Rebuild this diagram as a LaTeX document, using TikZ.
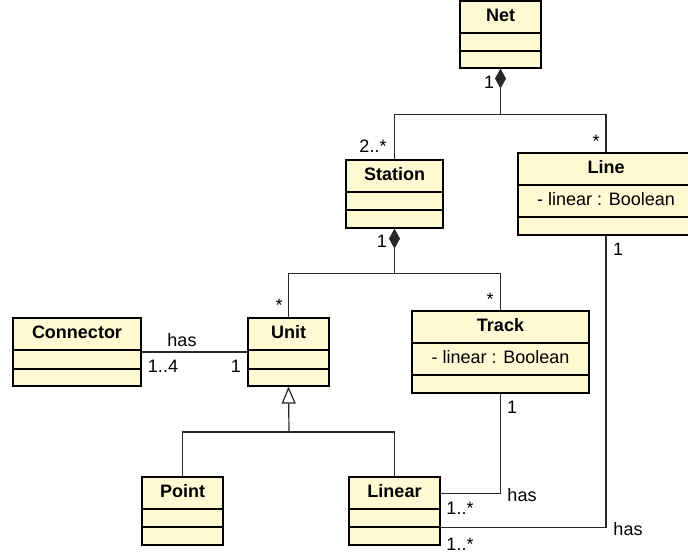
\documentclass[tikz,border=0pt]{standalone}
\usepackage{fontspec}
\setmainfont{Liberation Sans}
\usetikzlibrary{arrows.meta,fit,calc}
\definecolor{classfill}{RGB}{255,250,212}
\definecolor{edgegrey}{RGB}{40,40,40}
\tikzset{
  classbox/.style={draw=black, fill=classfill, line width=1.2pt, inner sep=0pt, rectangle},
  divider/.style={draw=black, line width=1.2pt},
  titletext/.style={anchor=base, inner sep=0pt, font=\fontsize{18}{22}\selectfont\bfseries},
  attrtext/.style={anchor=base, inner sep=0pt, font=\fontsize{18}{22}\selectfont},
  lbl/.style={anchor=base, inner sep=0pt, font=\fontsize{18}{22}\selectfont},
  conn/.style={draw=edgegrey, line width=1.2pt},
  comp/.style={conn, {Diamond[length=20pt,width=11pt]}-},
  gen/.style={conn, -{Triangle[length=17pt,width=14pt,fill=white]}},
}
% name, left, top, right, second divider, bottom, title, attribute
\newcommand\umlclass[8]{%
  \node[classbox, fit={(#2,#3) (#4,#6)}] (#1) {};
  \draw[divider] (#2,{#3+32}) -- (#4,{#3+32});
  \draw[divider] (#2,#5) -- (#4,#5);
  \node[titletext] (#1-title) at ({(#2+#4)/2},{#3+20}) {#7};
  \node[attrtext] (#1-attr) at ({(#2+#4)/2},{#3+52}) {#8};
}
\begin{document}
\begin{tikzpicture}[x=1pt,y=-1pt]
\useasboundingbox (0,0) rectangle (688,554);
\fill[white] (0,0) rectangle (688,554);

\umlclass{net}{460}{1}{541}{51}{68}{Net}{}
\umlclass{station}{346}{160}{443}{210}{228}{Station}{}
\umlclass{line}{518}{153}{694}{217}{235}{Line}{- linear : Boolean}
\umlclass{connector}{13}{318}{141}{369}{386}{Connector}{}
\umlclass{unit}{248}{318}{329}{369}{386}{Unit}{}
\umlclass{track}{412}{311}{589}{375}{393}{Track}{- linear : Boolean}
\umlclass{point}{142}{477}{223}{527}{545}{Point}{}
\umlclass{linear}{349}{477}{440}{527}{545}{Linear}{}

% Net composition
\draw[comp] (net.south) -- ++(0,46) -| (station.north);
\draw[conn] (net.south) ++(0,46) -| (line.north);
\node[lbl] (l-net1) at (489,88) {1};
\node[lbl] (l-st) at (373,152) {2..*};
\node[lbl] (l-lnstar) at (596,147) {*};

% Station composition
\draw[comp] (station.south) -- ++(0,45) -| (unit.north);
\draw[conn] (station.south) ++(0,45) -| (track.north);
\node[lbl] (l-st1) at (382,247) {1};
\node[lbl] (l-ustar) at (279,311) {*};
\node[lbl] (l-tstar) at (490,305) {*};

% Connector -- Unit
\draw[conn] (connector.east) -- (unit.west);
\node[lbl] (l-has1) at (182,346) {has};
\node[lbl] (l-14) at (163,372) {1..4};
\node[lbl] (l-u1) at (236,372) {1};

% Generalization
\coordinate (genj) at (289,432);
\draw[gen] (genj) -- (unit.south);
\draw[conn] (point.north) -- (point.north |- genj) -| (linear.north);

% Track -- Linear
\draw[conn] (track.south) |- ([yshift=-17pt]linear.north east);
\node[lbl] (l-t1) at (512,413) {1};
\node[lbl] (l-has2) at (522,501) {has};
\node[lbl] (l-lin1) at (460,514) {1..*};

% Line -- Linear
\draw[conn] (line.south) |- ([yshift=-51pt]linear.north east);
\node[lbl] (l-ln1) at (618,255) {1};
\node[lbl] (l-has3) at (628,535) {has};
\node[lbl] (l-lin2) at (460,550) {1..*};
\end{tikzpicture}
\end{document}
